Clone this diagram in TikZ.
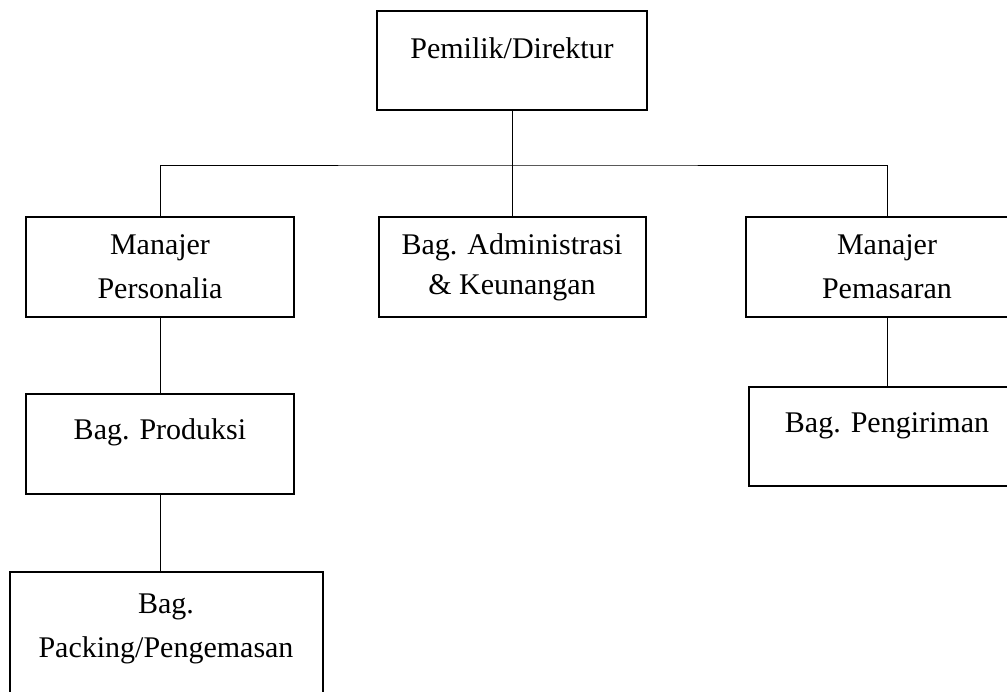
\documentclass[tikz,border=0pt]{standalone}
\usepackage{fontspec}
\setmainfont{Liberation Serif}
\usetikzlibrary{positioning}

\begin{document}
\begin{tikzpicture}[x=1pt, y=-1pt, node distance=75pt,
    box/.style={draw, line width=2pt, inner sep=0pt, font=\fontsize{30}{44}\selectfont},
    link/.style={line width=0.9pt}]
    \useasboundingbox (0,0) rectangle (1007,692);
    \clip (0,0) rectangle (1007,692);

    \node[box, anchor=north, minimum width=270pt, text height=48pt, text depth=51pt] (direktur) at (512,10) {Pemilik/Direktur};
    \node[box, anchor=north, minimum width=268pt, minimum height=100pt, align=center] (personalia) at (160,216) {Manajer\\Personalia};
    \node[box, anchor=north, minimum width=267pt, minimum height=100pt, align=center,
          font=\fontsize{30}{40}\selectfont] (admin) at (512,216) {Bag. Administrasi\\\& Keunangan};
    \node[box, anchor=north, minimum width=282pt, minimum height=100pt, align=center] (pemasaran) at (887,216) {Manajer\\Pemasaran};

    \node[box, minimum width=268pt, text height=46pt, text depth=54pt] (produksi) [below=75pt of personalia] {Bag. Produksi};
    \node[box, minimum width=276pt, text height=46pt, text depth=53pt] (pengiriman) [below=68pt of pemasaran] {Bag. Pengiriman};
    \node[box, text height=41pt, text depth=200pt] (packing) [below=76pt of produksi, xshift=6pt]
        {\parbox[t]{313pt}{\centering Bag.\\Packing/Pengemasan}};

    % garis penghubung
    \coordinate (bus) at (512,165);
    \draw[link] (direktur.south) -- (admin.north);
    \draw[link] (personalia.north) |- (bus) -| (pemasaran.north);
    \draw[link] (personalia.south) -- (produksi.north);
    \draw[link] (produksi.south) -- (produksi.south |- packing.north);
    \draw[link] (pemasaran.south) -- (pengiriman.north);
\end{tikzpicture}
\end{document}
